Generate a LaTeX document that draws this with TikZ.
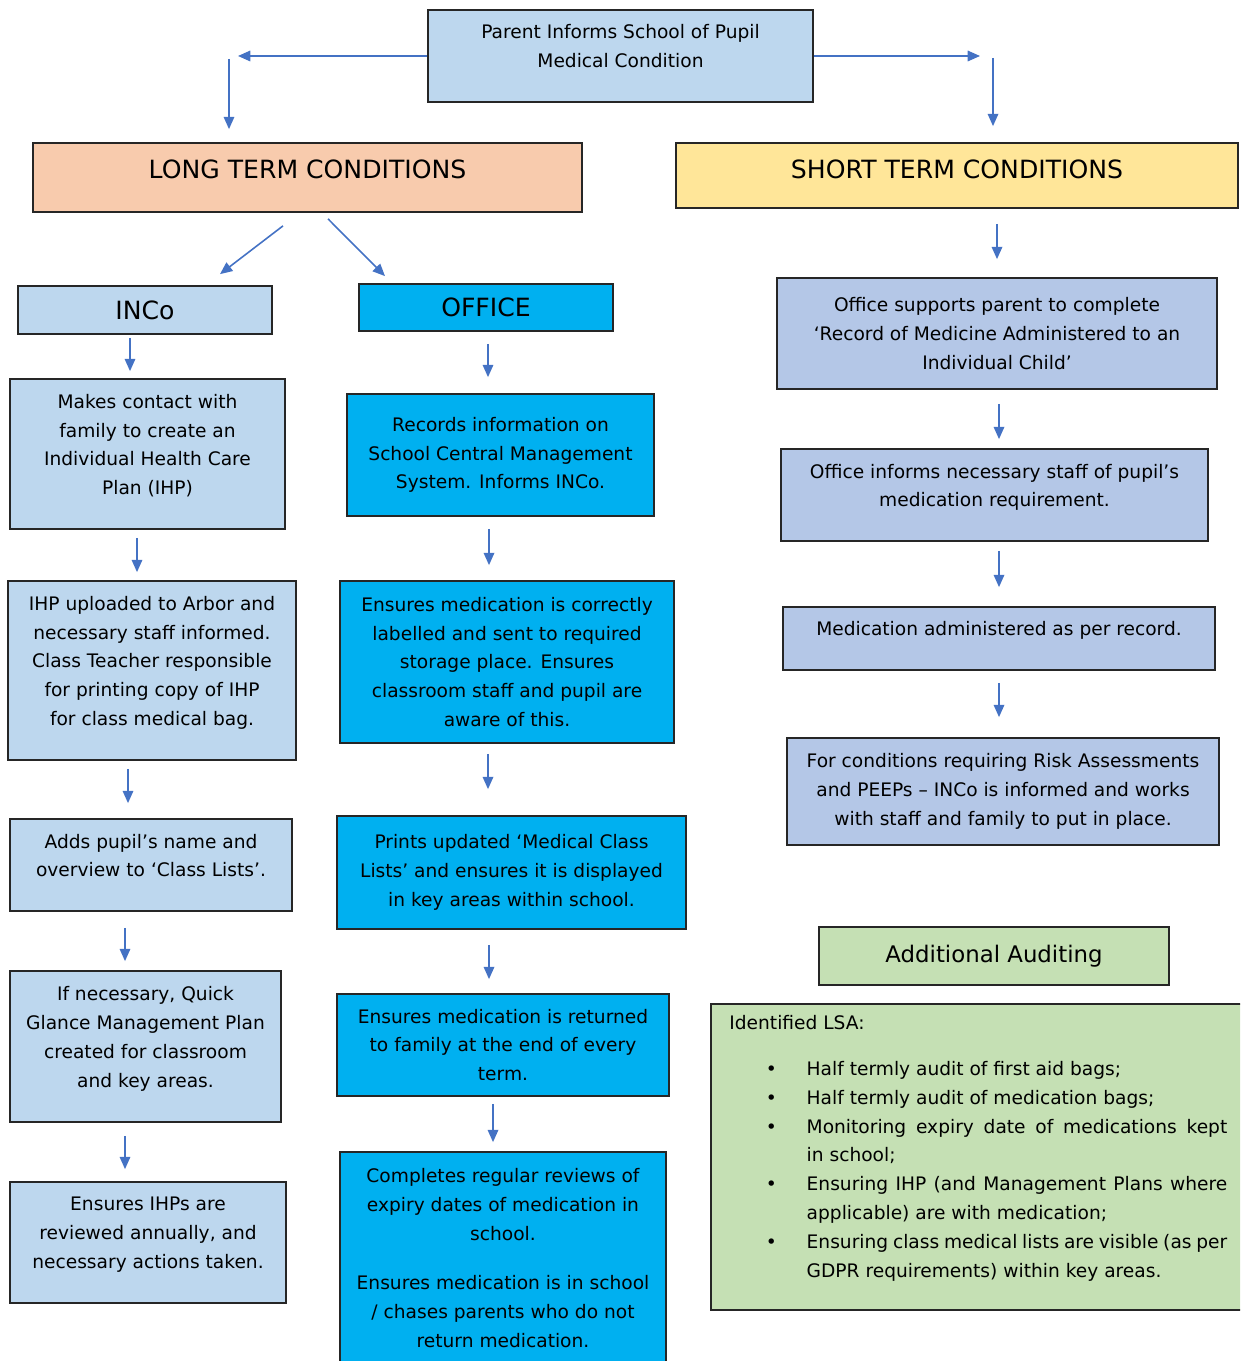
\documentclass[tikz,border=0pt]{standalone}
\usepackage{fontspec}
\setmainfont{DejaVu Sans}
\usepackage{tikz}
\usetikzlibrary{arrows.meta,positioning,calc}
\definecolor{parentblue}{RGB}{189,215,238}
\definecolor{longpeach}{RGB}{248,203,173}
\definecolor{shortyellow}{RGB}{255,230,153}
\definecolor{officecyan}{RGB}{0,176,240}
\definecolor{shortlilac}{RGB}{180,199,231}
\definecolor{auditgreen}{RGB}{197,224,180}
\definecolor{arrowblue}{RGB}{68,114,196}

\begin{document}
\begin{tikzpicture}[x=0.02cm,y=-0.02cm,
  box/.style={draw=black!85,line width=1pt,inner sep=2pt,align=center,
    font=\fontsize{10.6}{16.4}\selectfont},
  card/.style={box,text depth=11pt},
  head/.style={box,font=\fontsize{14.3}{17}\selectfont},
  arr/.style={draw=arrowblue,line width=0.9pt,-{Triangle[length=7pt,width=6pt]}},
  trim/.style 2 args={shorten <=#1,shorten >=#2}]
\useasboundingbox (0,0) rectangle (1240,1361);
\clip (0,0) rectangle (1240,1361);

% top of the chart
\node[card,fill=parentblue,minimum width=7.7cm,minimum height=1.84cm] (parent) at (620.5,56)
  {Parent Informs School of Pupil\\Medical Condition};
\node[head,text depth=10pt,fill=longpeach,minimum width=10.98cm,minimum height=1.38cm] (long) at (307.5,177.5)
  {LONG TERM CONDITIONS};
\node[head,text depth=7pt,fill=shortyellow,minimum width=11.24cm,minimum height=1.3cm] (short) at (957,175.5)
  {SHORT TERM CONDITIONS};

\coordinate (lturn) at (229,56);
\coordinate (rturn) at (993,56);
\draw[arr,trim={0cm}{0.18cm}] (parent.west) -- (lturn);
\draw[arr,trim={0.06cm}{0.26cm}] (lturn) -- (lturn |- long.north);
\draw[arr,trim={0cm}{0.26cm}] (parent.east) -- (rturn);
\draw[arr,trim={0.04cm}{0.32cm}] (rturn) -- (rturn |- short.north);

% long term: INCo column
\node[head,fill=parentblue,minimum width=5.08cm,minimum height=0.96cm] (inco) at (145,310) {INCo};
\node[card,fill=parentblue,minimum width=5.5cm,minimum height=3cm] (contact) at (147.5,454)
  {Makes contact with\\family to create an\\Individual Health Care\\Plan (IHP)};
\node[card,fill=parentblue,minimum width=5.76cm,minimum height=3.58cm] (ihp) at (152,670.5)
  {IHP uploaded to Arbor and\\necessary staff informed.\\Class Teacher responsible\\for printing copy of IHP\\for class medical bag.};
\node[card,fill=parentblue,minimum width=5.64cm,minimum height=1.84cm] (adds) at (151,865)
  {Adds pupil's name and\\overview to `Class Lists'.};
\node[card,fill=parentblue,minimum width=5.42cm,minimum height=3.02cm] (quick) at (145.5,1046.5)
  {If necessary, Quick\\Glance Management Plan\\created for classroom\\and key areas.};
\node[card,fill=parentblue,minimum width=5.52cm,minimum height=2.42cm] (review) at (148,1242.5)
  {Ensures IHPs are\\reviewed annually, and\\necessary actions taken.};

% long term: office column
\node[head,fill=officecyan,minimum width=5.08cm,minimum height=0.94cm] (office) at (486,307.5) {OFFICE};
\node[box,fill=officecyan,minimum width=6.14cm,minimum height=2.44cm] (records) at (500.5,455)
  {Records information on\\School Central Management\\System. Informs INCo.};
\node[box,fill=officecyan,minimum width=6.68cm,minimum height=3.24cm] (label) at (507,662)
  {Ensures medication is correctly\\labelled and sent to required\\storage place. Ensures\\classroom staff and pupil are\\aware of this.};
\node[box,fill=officecyan,minimum width=6.98cm,minimum height=2.26cm] (prints) at (511.5,872.5)
  {Prints updated `Medical Class\\Lists' and ensures it is displayed\\in key areas within school.};
\node[box,fill=officecyan,minimum width=6.64cm,minimum height=2.04cm] (returned) at (503,1045)
  {Ensures medication is returned\\to family at the end of every\\term.};
\node[box,fill=officecyan,minimum width=6.52cm,minimum height=4.24cm] (completes) at (503,1258)
  {Completes regular reviews of\\expiry dates of medication in\\school.\\[12pt]Ensures medication is in school\\/ chases parents who do not\\return medication.};

% short term column
\node[box,fill=shortlilac,minimum width=8.8cm,minimum height=2.22cm] (supports) at (997,333.5)
  {Office supports parent to complete\\`Record of Medicine Administered to an\\Individual Child'};
\node[card,fill=shortlilac,minimum width=8.54cm,minimum height=1.84cm] (informs) at (994.5,495)
  {Office informs necessary staff of pupil's\\medication requirement.};
\node[card,fill=shortlilac,minimum width=8.64cm,minimum height=1.26cm] (given) at (999,638.5)
  {Medication administered as per record.};
\node[box,fill=shortlilac,minimum width=8.64cm,minimum height=2.14cm] (risk) at (1003,791.5)
  {For conditions requiring Risk Assessments\\and PEEPs – INCo is informed and works\\with staff and family to put in place.};

% auditing
\node[head,fill=auditgreen,minimum width=7cm,minimum height=1.16cm,font=\fontsize{13}{16}\selectfont] (audit) at (994,956)
  {Additional Auditing};
\node[box,fill=auditgreen,anchor=north west,align=justify,text width=9.96cm,
  inner xsep=0.34cm,inner ysep=0.2cm,minimum width=10.7cm,minimum height=6.12cm] (lsa) at (710,1003)
  {\hyphenpenalty=10000 Identified LSA:
   \begin{list}{\textbullet}{\setlength\leftmargin{44pt}\setlength\labelsep{17pt}%
     \setlength\labelwidth{20pt}\setlength\topsep{10pt}\setlength\partopsep{0pt}%
     \setlength\itemsep{0pt}\setlength\parsep{0pt}}
   \item Half termly audit of first aid bags;
   \item Half termly audit of medication bags;
   \item Monitoring expiry date of medications kept\linebreak in school;
   \item Ensuring IHP (and Management Plans where applicable) are with medication;
   \item Ensuring class medical lists are visible (as per GDPR requirements) within key areas.
   \end{list}\vspace{-22pt}};

% connectors
\draw[arr] ($(long.south)+(-24.5,13)$) -- ($(inco.north)+(75,-11)$);
\draw[arr] ($(long.south)+(20.5,6)$) -- ($(office.north)+(-101,-7)$);
\draw[arr,trim={0.3cm}{0.36cm}] (short.south -| supports.north) -- (supports.north);

\draw[arr,trim={0.06cm}{0.14cm}] ([xshift=-0.3cm]inco.south) -- ([xshift=-0.3cm]inco.south |- contact.north);
\draw[arr,trim={0.16cm}{0.16cm}] ([xshift=-0.21cm]contact.south) -- ([xshift=-0.21cm]contact.south |- ihp.north);
\draw[arr,trim={0.16cm}{0.3cm}] ([xshift=-0.48cm]ihp.south) -- ([xshift=-0.48cm]ihp.south |- adds.north);
\draw[arr,trim={0.32cm}{0.18cm}] ([xshift=-0.52cm]adds.south) -- ([xshift=-0.52cm]adds.south |- quick.north);
\draw[arr,trim={0.26cm}{0.24cm}] ([xshift=-0.41cm]quick.south) -- ([xshift=-0.41cm]quick.south |- review.north);

\draw[arr,trim={0.24cm}{0.32cm}] ([xshift=0.04cm]office.south) -- ([xshift=0.04cm]office.south |- records.north);
\draw[arr,trim={0.24cm}{0.3cm}] ([xshift=-0.23cm]records.south) -- ([xshift=-0.23cm]records.south |- label.north);
\draw[arr,trim={0.2cm}{0.52cm}] ([xshift=-0.38cm]label.south) -- ([xshift=-0.38cm]label.south |- prints.north);
\draw[arr,trim={0.3cm}{0.28cm}] ([xshift=-0.45cm]prints.south) -- ([xshift=-0.45cm]prints.south |- returned.north);
\draw[arr,trim={0.14cm}{0.18cm}] ([xshift=-0.2cm]returned.south) -- ([xshift=-0.2cm]returned.south |- completes.north);

\draw[arr,trim={0.28cm}{0.18cm}] ([xshift=0.04cm]supports.south) -- ([xshift=0.04cm]supports.south |- informs.north);
\draw[arr,trim={0.18cm}{0.38cm}] ([xshift=0.09cm]informs.south) -- ([xshift=0.09cm]informs.south |- given.north);
\draw[arr,trim={0.24cm}{0.4cm}] (given.south) -- (given.south |- risk.north);
\end{tikzpicture}
\end{document}
